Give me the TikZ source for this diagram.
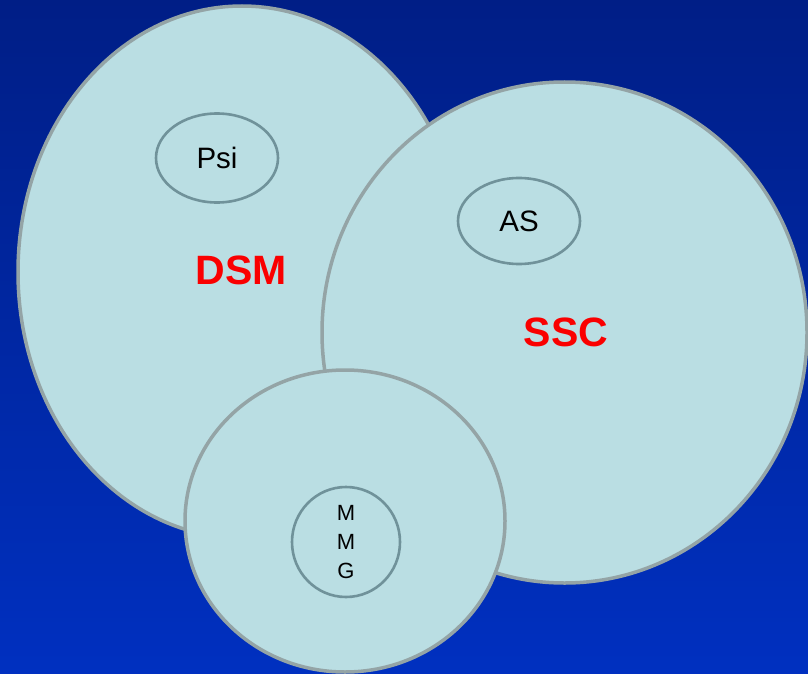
\documentclass[tikz,border=0pt]{standalone}
\usepackage{fontspec}
\setmainfont{Liberation Sans}
\usetikzlibrary{shapes.geometric}
\definecolor{bgtop}{RGB}{0,30,134}
\definecolor{bgbot}{RGB}{0,48,192}
\definecolor{setfill}{RGB}{186,222,227}
\definecolor{setline}{RGB}{148,164,166}
\definecolor{subline}{RGB}{112,146,154}
\definecolor{setred}{RGB}{250,0,0}
\tikzset{
  bigset/.style={ellipse, draw=setline, line width=3.5pt, fill=setfill, inner sep=0pt},
  subset/.style={ellipse, draw=subline, line width=2.6pt, inner sep=0pt, align=center},
  setname/.style={text=setred, font=\bfseries\fontsize{41}{49}\selectfont, inner sep=0pt},
}
\begin{document}
\begin{tikzpicture}[x=1pt,y=-1pt]
  % background
  \shade[top color=bgtop, bottom color=bgbot] (0,0) rectangle (808,674);
  \useasboundingbox (0,0) rectangle (808,674);

  % the three overlapping sets
  \node[bigset, minimum width=448pt, minimum height=532pt] (dsm) at (242,272) {};
  \node[bigset, minimum width=485pt, minimum height=501pt] (ssc) at (564.5,332.5) {};
  \node[bigset, minimum width=320pt, minimum height=302pt] (low) at (345,521) {};

  % subsets
  \node[subset, minimum width=122pt, minimum height=89pt, font=\fontsize{29.5}{35}\selectfont] (psi) at (217,158) {Psi};
  \node[subset, minimum width=122pt, minimum height=86pt, font=\fontsize{29.5}{35}\selectfont] (as) at (519,221) {AS};
  \node[subset, minimum width=108pt, minimum height=110pt, font=\fontsize{22}{29}\selectfont] (mmg) at (346,542) {M\\M\\G};

  % set names
  \node[setname] (dsmname) at (241,270) {DSM};
  \node[setname] (sscname) at (566,332.5) {SSC};
\end{tikzpicture}
\end{document}
